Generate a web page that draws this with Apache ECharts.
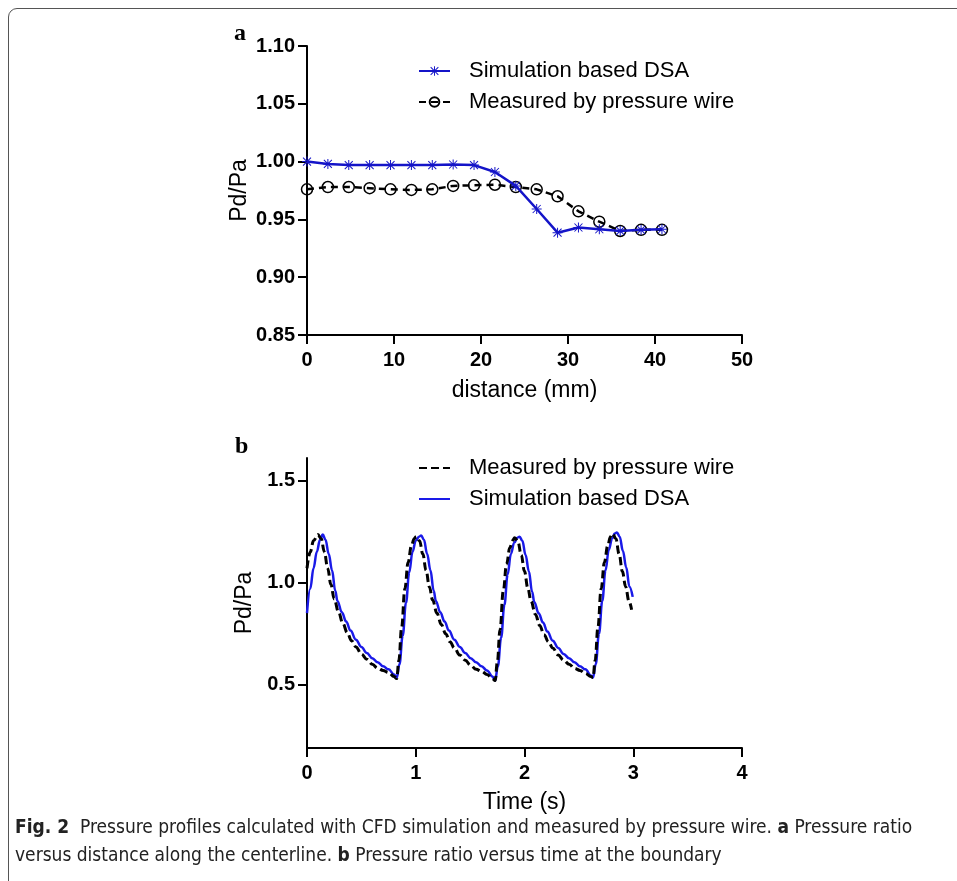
<!DOCTYPE html>
<html>
<head>
<meta charset="utf-8">
<script src="https://cdn.jsdelivr.net/npm/echarts@6/dist/echarts.min.js"></script>
<style>
  html, body { margin: 0; padding: 0; background: #fff; }
  #frame {
    position: absolute; left: 8px; top: 8px; width: 1000px; height: 1000px;
    border: 1px solid #555; border-radius: 9px; box-sizing: border-box;
  }
  #chart { position: absolute; left: 0; top: 0; width: 957px; height: 881px; }
  #caption {
    position: absolute; left: 15px; top: 812px; width: 940px;
    font-family: 'Liberation Sans Narrow', 'DejaVu Sans Condensed', sans-serif;
    font-size: 19px; line-height: 28px; color: #222;
  }
</style>
</head>
<body>
<div id="frame"></div>
<div id="chart"></div>
<div id="caption"><b>Fig. 2</b>&nbsp; Pressure profiles calculated with CFD simulation and measured by pressure wire. <b>a</b> Pressure ratio versus distance along the centerline. <b>b</b> Pressure ratio versus time at the boundary</div>

<script>
// panel a: pressure ratio along the centerline
const distanceMm = [0, 2.4, 4.8, 7.2, 9.6, 12, 14.4, 16.8, 19.2, 21.6, 24, 26.4, 28.8, 31.2, 33.6, 36, 38.4, 40.8];
const simRatio = [1.000, 0.998, 0.997, 0.997, 0.997, 0.997, 0.997, 0.9975, 0.997, 0.991, 0.979, 0.959, 0.9385, 0.943, 0.9415, 0.940, 0.941, 0.9415];
const wireRatio = [0.976, 0.978, 0.978, 0.977, 0.976, 0.9755, 0.976, 0.979, 0.9795, 0.980, 0.978, 0.976, 0.970, 0.957, 0.948, 0.940, 0.941, 0.941];

// panel b: pressure ratio over time, [t (s), Pd/Pa]
const simTime = [
  [0, 0.85], [0.03, 0.97], [0.06, 1.07], [0.09, 1.15], [0.12, 1.21], [0.145, 1.235],
  [0.17, 1.21], [0.20, 1.14], [0.23, 1.06], [0.26, 0.96], [0.28, 0.91], [0.32, 0.855],
  [0.36, 0.81], [0.40, 0.765], [0.45, 0.72], [0.50, 0.685], [0.55, 0.655], [0.60, 0.63],
  [0.65, 0.61], [0.70, 0.59], [0.75, 0.575], [0.80, 0.55], [0.825, 0.533],
  [0.85, 0.60], [0.88, 0.74], [0.91, 0.90], [0.94, 1.05], [0.97, 1.15], [1.00, 1.205], [1.03, 1.225], [1.05, 1.23],
  [1.075, 1.21], [1.105, 1.14], [1.135, 1.06], [1.165, 0.96], [1.185, 0.91], [1.225, 0.855],
  [1.265, 0.81], [1.305, 0.765], [1.355, 0.72], [1.405, 0.685], [1.455, 0.655], [1.505, 0.63],
  [1.555, 0.61], [1.605, 0.59], [1.655, 0.57], [1.705, 0.54], [1.73, 0.52],
  [1.755, 0.59], [1.785, 0.73], [1.815, 0.89], [1.845, 1.04], [1.875, 1.14], [1.905, 1.195], [1.935, 1.22], [1.955, 1.225],
  [1.98, 1.205], [2.01, 1.135], [2.04, 1.055], [2.07, 0.955], [2.09, 0.905], [2.13, 0.85],
  [2.17, 0.805], [2.21, 0.76], [2.26, 0.715], [2.31, 0.68], [2.36, 0.65], [2.41, 0.63],
  [2.46, 0.61], [2.51, 0.59], [2.56, 0.575], [2.61, 0.545], [2.63, 0.535],
  [2.655, 0.60], [2.685, 0.75], [2.715, 0.91], [2.745, 1.06], [2.775, 1.16], [2.805, 1.215], [2.83, 1.24], [2.85, 1.245],
  [2.875, 1.225], [2.905, 1.155], [2.935, 1.075], [2.965, 0.98], [2.995, 0.93]
];
const wireTime = [
  [0, 1.07], [0.03, 1.15], [0.06, 1.205], [0.10, 1.235], [0.13, 1.215], [0.16, 1.15],
  [0.19, 1.07], [0.22, 0.99], [0.25, 0.92], [0.29, 0.855], [0.33, 0.80], [0.37, 0.755],
  [0.41, 0.715], [0.45, 0.685], [0.50, 0.65], [0.55, 0.625], [0.60, 0.60], [0.65, 0.58],
  [0.70, 0.57], [0.75, 0.56], [0.80, 0.54], [0.825, 0.53],
  [0.845, 0.62], [0.87, 0.78], [0.90, 0.97], [0.93, 1.10], [0.96, 1.18], [0.985, 1.215], [1.005, 1.225],
  [1.035, 1.205], [1.065, 1.14], [1.095, 1.06], [1.125, 0.98], [1.155, 0.915], [1.195, 0.85],
  [1.235, 0.795], [1.275, 0.75], [1.315, 0.71], [1.355, 0.68], [1.405, 0.645], [1.455, 0.62],
  [1.505, 0.595], [1.555, 0.575], [1.605, 0.565], [1.655, 0.55], [1.705, 0.53], [1.73, 0.52],
  [1.75, 0.61], [1.775, 0.77], [1.805, 0.96], [1.835, 1.09], [1.865, 1.17], [1.89, 1.205], [1.91, 1.22],
  [1.94, 1.20], [1.97, 1.135], [2.00, 1.055], [2.03, 0.975], [2.06, 0.91], [2.10, 0.845],
  [2.14, 0.79], [2.18, 0.745], [2.22, 0.71], [2.26, 0.68], [2.31, 0.645], [2.36, 0.62],
  [2.41, 0.60], [2.46, 0.58], [2.51, 0.57], [2.56, 0.555], [2.61, 0.54], [2.63, 0.535],
  [2.65, 0.62], [2.675, 0.78], [2.705, 0.97], [2.735, 1.10], [2.765, 1.18], [2.79, 1.225], [2.81, 1.24],
  [2.84, 1.215], [2.87, 1.14], [2.90, 1.055], [2.93, 0.98], [2.96, 0.91], [2.985, 0.867]
];
const bTicks = [0.5, 1.0, 1.5];

const FONT = 'Liberation Sans, Arial, sans-serif';
// asterisk marker
const STAR = 'path://M9 0H11V20H9Z M0 11H20V9H0Z M1.3 2.7L2.7 1.3L18.7 17.3L17.3 18.7Z M17.3 1.3L18.7 2.7L2.7 18.7L1.3 17.3Z';

const chart = echarts.init(document.getElementById('chart'));

const axisLine = { lineStyle: { color: '#000', width: 2 } };
const axisTick = { inside: false, length: 9, lineStyle: { color: '#000', width: 2 } };
const tickLabel = { color: '#000', fontFamily: FONT, fontWeight: 'bold', fontSize: 20 };
const nameStyle = { color: '#000', fontFamily: FONT, fontSize: 23 };
const legendText = { color: '#000', fontFamily: FONT, fontSize: 22, padding: [0, 0, 0, 14] };
const noMark = { color: 'rgba(0,0,0,0)', borderWidth: 0 };

let option = {
  animation: false,
  grid: [
    { left: 307, top: 46, width: 435, height: 289 },
    { left: 307, top: 458, width: 435, height: 290 }
  ],
  graphic: [
    { type: 'text', left: 234, top: 22, style: { text: 'a', font: 'bold 24px "Liberation Serif", serif', fill: '#000' } },
    { type: 'text', left: 235, top: 435, style: { text: 'b', font: 'bold 24px "Liberation Serif", serif', fill: '#000' } }
  ],
  legend: [
    {
      data: ['Simulation based DSA', 'Measured by pressure wire'],
      orient: 'vertical', left: 413, top: 55, itemWidth: 31, itemHeight: 12, itemGap: 9,
      textStyle: legendText
    },
    {
      data: [
        { name: 'Measured by pressure wire ', itemStyle: noMark },
        { name: 'Simulation based DSA ', itemStyle: noMark }
      ],
      orient: 'vertical', left: 413, top: 452, itemWidth: 31, itemHeight: 12, itemGap: 9,
      textStyle: legendText
    }
  ],
  xAxis: [
    {
      gridIndex: 0, type: 'value', min: 0, max: 50, interval: 10,
      name: 'distance (mm)', nameLocation: 'middle', nameGap: 44, nameTextStyle: nameStyle,
      axisLine: axisLine, axisTick: axisTick, splitLine: { show: false },
      axisLabel: Object.assign({ margin: 15 }, tickLabel)
    },
    {
      gridIndex: 1, type: 'value', min: 0, max: 4, interval: 1,
      name: 'Time (s)', nameLocation: 'middle', nameGap: 43, nameTextStyle: nameStyle,
      axisLine: axisLine, axisTick: axisTick, splitLine: { show: false },
      axisLabel: Object.assign({ margin: 15 }, tickLabel)
    }
  ],
  yAxis: [
    {
      gridIndex: 0, type: 'value', min: 0.85, max: 1.10, interval: 0.05,
      name: 'Pd/Pa', nameLocation: 'middle', nameGap: 56, nameTextStyle: nameStyle,
      axisLine: axisLine, axisTick: axisTick, splitLine: { show: false },
      axisLabel: Object.assign({ margin: 12, formatter: v => v.toFixed(2) }, tickLabel)
    },
    {
      gridIndex: 1, type: 'value', min: 0.19, max: 1.61,
      name: 'Pd/Pa', nameLocation: 'middle', nameGap: 51, nameTextStyle: nameStyle,
      axisLine: axisLine, splitLine: { show: false },
      axisTick: Object.assign({ customValues: bTicks }, axisTick),
      axisLabel: Object.assign({ margin: 12, customValues: bTicks, formatter: v => v.toFixed(1) }, tickLabel)
    }
  ],
  series: [
    {
      name: 'Simulation based DSA', type: 'line', xAxisIndex: 0, yAxisIndex: 0,
      data: distanceMm.map((d, i) => [d, simRatio[i]]),
      symbol: STAR, symbolSize: 10, z: 3,
      lineStyle: { color: '#1414c8', width: 2.5 },
      itemStyle: { color: '#1414c8' }
    },
    {
      name: 'Measured by pressure wire', type: 'line', xAxisIndex: 0, yAxisIndex: 0,
      data: distanceMm.map((d, i) => [d, wireRatio[i]]),
      symbol: 'circle', symbolSize: 11, z: 2,
      lineStyle: { color: '#000', width: 2.5, type: [7, 5] },
      itemStyle: { color: 'rgba(255,255,255,0)', borderColor: '#000', borderWidth: 1.5 }
    },
    {
      name: 'Measured by pressure wire ', type: 'line', xAxisIndex: 1, yAxisIndex: 1,
      data: wireTime, showSymbol: false, symbol: 'none', smooth: 0.4, smoothMonotone: 'x', z: 3,
      lineStyle: { color: '#000', width: 3, type: [8, 4] },
      itemStyle: { color: '#000' }
    },
    {
      name: 'Simulation based DSA ', type: 'line', xAxisIndex: 1, yAxisIndex: 1,
      data: simTime, showSymbol: false, symbol: 'none', smooth: 0.4, smoothMonotone: 'x', z: 2,
      lineStyle: { color: '#1a1ae8', width: 2.5 },
      itemStyle: { color: '#1a1ae8' }
    }
  ]
};

option && chart.setOption(option);
</script>
</body>
</html>
